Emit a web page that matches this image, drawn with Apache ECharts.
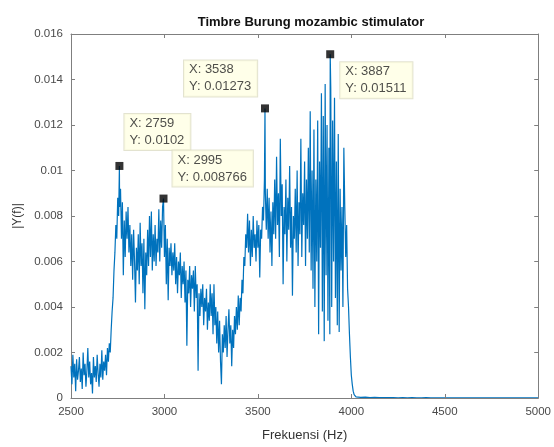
<!DOCTYPE html>
<html>
<head>
<meta charset="utf-8">
<script src="https://cdn.jsdelivr.net/npm/echarts@6/dist/echarts.min.js"></script>
<style>
  html, body { margin: 0; padding: 0; background: #fff; }
  #chart { width: 554px; height: 447px; }
</style>
</head>
<body>
<div id="chart"></div>
<script>
// Spectrum magnitude |Y(f)| on a 5 Hz grid, 2500–4020 Hz, in units of 1e-4
const gridStart = 2500;
const gridStep = 5;
const magE4 = [
  14, 6, 19, 9, 15, 3, 17, 8, 12, 18,          // 2500
  7, 13, 4, 20, 10, 15, 5, 12, 22, 9,          // 2550
  16, 6, 11, 2, 18, 9, 14, 7, 19, 11,          // 2600
  5, 15, 9, 21, 8, 16, 12, 19, 10, 22,         // 2650
  16, 24, 20, 30, 38, 44, 56, 64, 76, 70,      // 2700
  88, 80, 84, 92, 70, 86, 54, 78, 62, 82,      // 2750
  70, 84, 64, 76, 58, 72, 52, 74, 60, 42,      // 2800
  66, 56, 72, 50, 77, 58, 68, 46, 70, 39,      // 2850
  64, 54, 74, 58, 80, 62, 82, 56, 72, 60,      // 2900
  76, 58, 70, 64, 83, 60, 78, 66, 84, 80,      // 2950
  62, 76, 50, 70, 43, 66, 58, 68, 54, 64,      // 3000
  56, 68, 50, 62, 46, 60, 54, 64, 44, 58,      // 3050
  50, 60, 42, 56, 23, 52, 46, 58, 40, 54,      // 3100
  48, 56, 38, 58, 44, 50, 12, 46, 36, 48,      // 3150
  40, 50, 32, 44, 38, 48, 30, 42, 34, 50,      // 3200
  36, 46, 28, 50, 32, 40, 24, 38, 20, 34,      // 3250
  16, 6, 28, 20, 32, 22, 36, 18, 30, 39,       // 3300
  24, 32, 14, 30, 22, 36, 28, 40, 30, 45,      // 3350
  32, 44, 38, 52, 46, 62, 58, 72, 66, 81,      // 3400
  64, 78, 58, 74, 62, 80, 66, 72, 60, 78,      // 3450
  66, 76, 53, 74, 70, 84, 78, 96, 90, 74,      // 3500
  92, 70, 88, 64, 82, 58, 86, 72, 96, 70,      // 3550
  106, 76, 90, 62, 114, 80, 94, 50, 84, 72,    // 3600
  96, 60, 88, 74, 102, 66, 84, 45, 80, 70,     // 3650
  92, 64, 100, 58, 86, 72, 114, 62, 90, 76,    // 3700
  104, 58, 96, 70, 110, 64, 126, 56, 100, 48,  // 3750
  118, 40, 96, 60, 122, 28, 104, 66, 134, 38,  // 3800
  124, 25, 138, 54, 120, 34, 110, 28, 136, 40, // 3850
  122, 60, 132, 44, 104, 32, 116, 29, 92, 56,  // 3900
  84, 40, 110, 84, 62, 76, 48, 40, 28, 18,     // 3950
  10, 6, 3, 1.5, 1                             // 4000
];

// Residual level above the cut-off, 25 Hz grid from 4025 to 5000 Hz (units of 1e-4)
const tailStart = 4025;
const tailStep = 25;
const tailE4 = [
  0.5, 0.3, 0.4, 0.2, 0.3, 0.2, 0.2, 0.2, 0.2, 0.1,
  0.2, 0.1, 0.2, 0.1, 0.1, 0.2, 0.1, 0.1, 0.1, 0.1,
  0.1, 0.1, 0.1, 0.1, 0.1, 0.1, 0.1, 0.1, 0.1, 0.1,
  0.1, 0.1, 0.1, 0.1, 0.1, 0.1, 0.1, 0.1, 0.1, 0.1
];

// Data tips: frequency (Hz) and magnitude
const tipFreq = [2759, 2995, 3538, 3887];
const tipVal = [0.0102, 0.008766, 0.01273, 0.01511];

// Axis ticks
const xTicks = { min: 2500, max: 5000, step: 500 };
const yTicks = { min: 0, max: 0.016, step: 0.002 };

// Build the [f, |Y|] series, placing each data-tip sample on the curve
const pts = new Map();
magE4.forEach((v, i) => pts.set(gridStart + i * gridStep, v * 1e-4));
tailE4.forEach((v, i) => pts.set(tailStart + i * tailStep, v * 1e-4));
tipFreq.forEach((f, i) => pts.set(f, tipVal[i]));
const spectrum = Array.from(pts.entries()).sort((a, b) => a[0] - b[0]);

// Top-left corner of each data-tip box, relative to its marker centre (pixels)
const tipOffsets = [[5, -52], [9, -48], [-81, -48], [10, 8]];
const markerSize = 8;

const font = 'Liberation Sans, Arial, Helvetica, sans-serif';
const frame = '#7f7f7f';
const tickText = '#4a4a4a';

const chart = echarts.init(document.getElementById('chart'), null, { renderer: 'canvas' });

const xBase = {
  type: 'value', min: xTicks.min, max: xTicks.max, interval: xTicks.step,
  z: 3,
  axisLine: { show: true, onZero: false, lineStyle: { color: frame, width: 1 } },
  axisTick: { show: true, inside: true, length: 4, lineStyle: { color: frame } },
  splitLine: { show: false }
};
const yBase = {
  type: 'value', min: yTicks.min, max: yTicks.max, interval: yTicks.step,
  axisLine: { show: true, onZero: false, lineStyle: { color: frame, width: 1 } },
  axisTick: { show: true, inside: true, length: 4, lineStyle: { color: frame } },
  splitLine: { show: false }
};

chart.setOption({
  animation: false,
  backgroundColor: '#ffffff',
  title: {
    text: 'Timbre Burung mozambic stimulator',
    left: 306, top: 11, textAlign: 'center',
    textStyle: { fontFamily: font, fontSize: 13, fontWeight: 'bold', color: '#111' }
  },
  grid: { left: 71, right: 13, top: 34, bottom: 43 },
  xAxis: [
    Object.assign({}, xBase, {
      position: 'bottom',
      name: 'Frekuensi (Hz)', nameLocation: 'middle', nameGap: 31,
      nameTextStyle: { fontFamily: font, fontSize: 13, color: '#333' },
      axisLabel: {
        show: true, margin: 8, fontFamily: font, fontSize: 11.5, color: tickText,
        formatter: v => String(v)
      }
    }),
    Object.assign({}, xBase, { position: 'top', axisLabel: { show: false } })
  ],
  yAxis: [
    Object.assign({}, yBase, {
      position: 'left',
      name: '|Y(f)|', nameLocation: 'middle', nameGap: 47, nameRotate: 90,
      nameTextStyle: { fontFamily: font, fontSize: 12, color: '#333' },
      axisLabel: {
        show: true, margin: 8, fontFamily: font, fontSize: 11.5, color: tickText,
        formatter: v => String(+v.toFixed(3))
      }
    }),
    Object.assign({}, yBase, { position: 'right', axisLabel: { show: false } })
  ],
  series: [
    {
      type: 'line',
      xAxisIndex: 0, yAxisIndex: 0,
      data: spectrum,
      showSymbol: false,
      symbol: 'none',
      lineStyle: { color: '#0072BD', width: 1.2 },
      z: 2
    },
    {
      type: 'scatter',
      xAxisIndex: 0, yAxisIndex: 0,
      symbol: 'rect',
      symbolSize: markerSize,
      itemStyle: { color: '#000' },
      z: 5,
      data: tipFreq.map((f, i) => ({
        value: [f, tipVal[i]],
        label: {
          show: true,
          // position is measured from the symbol's top-left corner
          position: [tipOffsets[i][0] + markerSize / 2, tipOffsets[i][1] + markerSize / 2],
          formatter: 'X: ' + f + '\nY: ' + tipVal[i],
          align: 'left',
          verticalAlign: 'top',
          fontFamily: font, fontSize: 13, lineHeight: 17, color: '#222',
          backgroundColor: '#ffffe3',
          borderColor: '#dcdcc4', borderWidth: 1,
          padding: [1, 6, 1, 5]
        }
      })),
      labelLayout: { hideOverlap: false }
    }
  ]
});
</script>
</body>
</html>
